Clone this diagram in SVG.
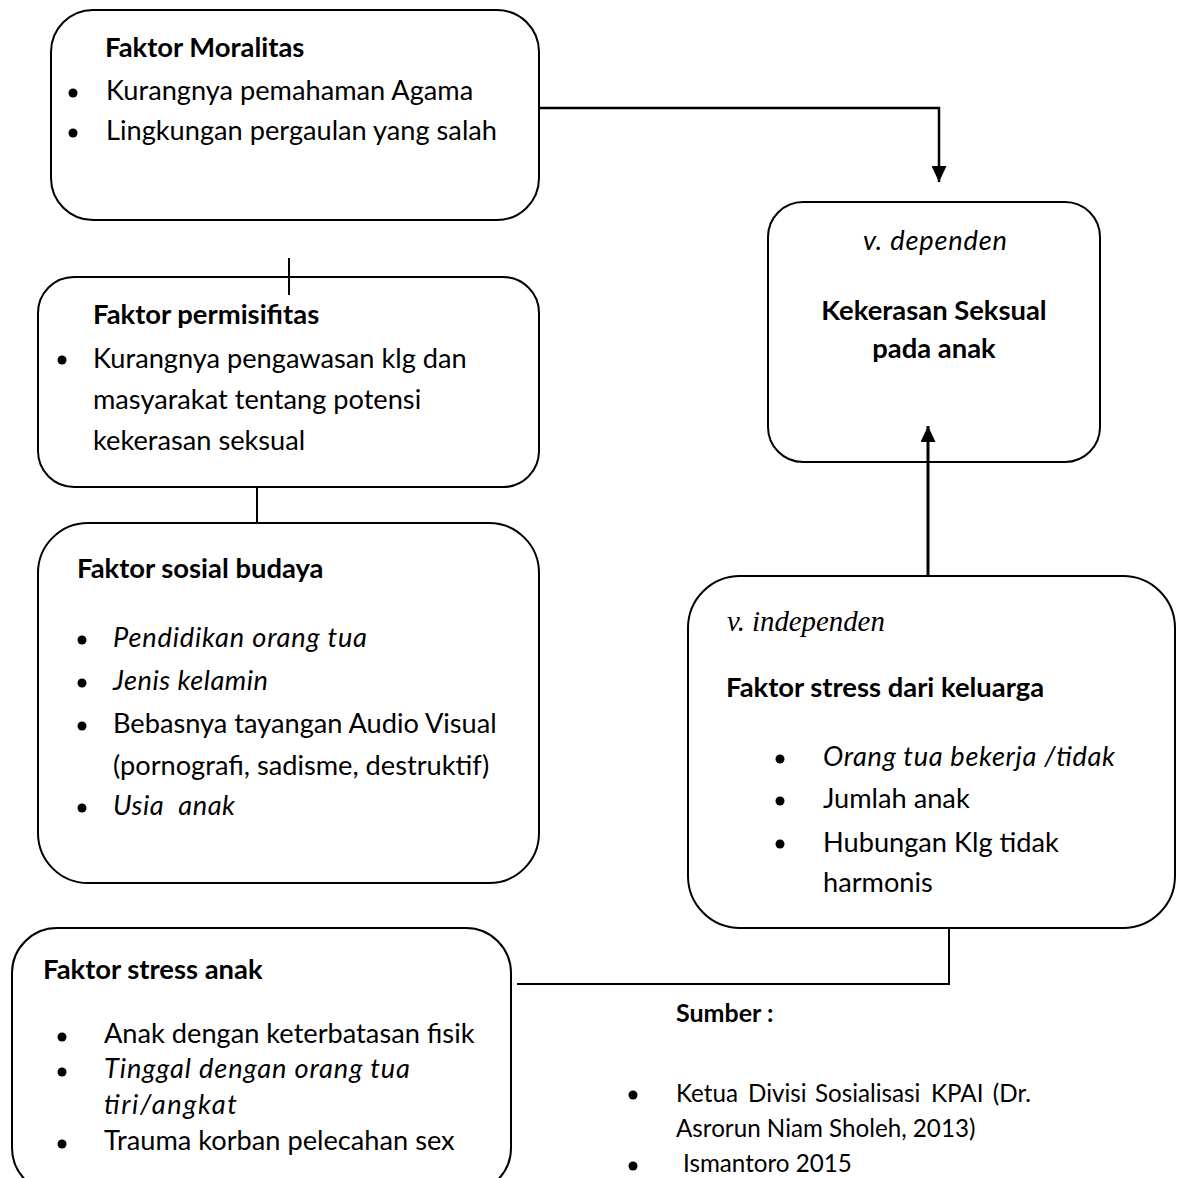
<svg xmlns="http://www.w3.org/2000/svg" width="1181" height="1178" viewBox="0 0 1181 1178">
<style>
.box{fill:#fff;stroke:#000;stroke-width:2}
.ln{fill:none;stroke:#000;stroke-width:2}
.arr{fill:none;stroke:#000;stroke-width:2.5}
.arr2{fill:none;stroke:#000;stroke-width:3}
text{font-family:Lato,"Open Sans","Liberation Sans",sans-serif;font-size:27.2px;fill:#000}
.b{font-weight:bold;font-size:27.4px}
.i{font-style:italic}
.tnr{font-family:"Liberation Serif","Times New Roman",serif;font-style:italic;font-size:28.8px}
.src{font-size:24.2px}
.sb{font-weight:bold;font-size:25px}
.dot{fill:#000}
</style>
<defs>
<marker id="ah" viewBox="0 0 16 15" refX="16" refY="7.5" markerWidth="16" markerHeight="15" markerUnits="userSpaceOnUse" orient="auto">
<path d="M0,0 L16,7.5 L0,15 Z" fill="#000"/>
</marker>
</defs>
<rect width="1181" height="1178" fill="#fff"/>
<g id="moralitas">
<rect class="box" x="51" y="10" width="488" height="210" rx="42"/>
<text class="b" x="105" y="57">Faktor Moralitas</text>
<circle class="dot" cx="73" cy="93" r="4.5"/>
<text x="106" y="100">Kurangnya pemahaman Agama</text>
<circle class="dot" cx="73" cy="133" r="4.5"/>
<text x="106" y="140">Lingkungan pergaulan yang salah</text>
</g>
<g id="permisifitas">
<rect class="box" x="38" y="277" width="501" height="210" rx="36"/>
<text class="b" x="93" y="324">Faktor permisifitas</text>
<circle class="dot" cx="62" cy="360" r="4.5"/>
<text x="93" y="368">Kurangnya pengawasan klg dan</text>
<text x="93" y="409">masyarakat tentang potensi</text>
<text x="93" y="450">kekerasan seksual</text>
</g>
<g id="sosial-budaya">
<rect class="box" x="38" y="523" width="501" height="360" rx="50"/>
<text class="b" x="77" y="578">Faktor sosial budaya</text>
<circle class="dot" cx="82" cy="640" r="4.5"/>
<text class="i" x="113" y="647" textLength="254">Pendidikan orang tua</text>
<circle class="dot" cx="82" cy="683" r="4.5"/>
<text class="i" x="113" y="690" textLength="155">Jenis kelamin</text>
<circle class="dot" cx="82" cy="726" r="4.5"/>
<text x="113" y="733">Bebasnya tayangan Audio Visual</text>
<text x="113" y="775">(pornografi, sadisme, destruktif)</text>
<circle class="dot" cx="82" cy="808" r="4.5"/>
<text class="i" x="113" y="815" textLength="122" xml:space="preserve">Usia  anak</text>
</g>
<g id="dependen">
<rect class="box" x="768" y="202" width="332" height="260" rx="35"/>
<text class="i" x="863" y="250" textLength="144">v. dependen</text>
<text class="b" x="934" y="320" text-anchor="middle">Kekerasan Seksual</text>
<text class="b" x="934" y="358" text-anchor="middle">pada anak</text>
</g>
<g id="independen">
<rect class="box" x="688" y="576" width="487" height="352" rx="52"/>
<text class="tnr" x="727" y="631">v. independen</text>
<text class="b" x="726" y="697">Faktor stress dari keluarga</text>
<circle class="dot" cx="780" cy="759" r="4.5"/>
<text class="i" x="823" y="766" textLength="292">Orang tua bekerja /tidak</text>
<circle class="dot" cx="780" cy="801" r="4.5"/>
<text x="823" y="808">Jumlah anak</text>
<circle class="dot" cx="780" cy="844" r="4.5"/>
<text x="823" y="852">Hubungan Klg tidak</text>
<text x="823" y="892">harmonis</text>
</g>
<g id="stress-anak">
<rect class="box" x="12" y="928" width="499" height="265" rx="45"/>
<text class="b" x="43" y="979">Faktor stress anak</text>
<circle class="dot" cx="62" cy="1037" r="4.5"/>
<text x="104" y="1043">Anak dengan keterbatasan fisik</text>
<circle class="dot" cx="62" cy="1072" r="4.5"/>
<text class="i" x="104" y="1078" textLength="306">Tinggal dengan orang tua</text>
<text class="i" x="104" y="1114" textLength="133">tiri/angkat</text>
<circle class="dot" cx="62" cy="1144" r="4.5"/>
<text x="104" y="1150">Trauma korban pelecahan sex</text>
</g>
<g id="sumber">
<text class="sb" x="676" y="1022">Sumber :</text>
<circle class="dot" cx="633" cy="1095" r="4.5"/>
<text class="src" y="1102"><tspan x="676">Ketua</tspan><tspan x="748">Divisi</tspan><tspan x="815">Sosialisasi</tspan><tspan x="931">KPAI</tspan><tspan x="1031" text-anchor="end">(Dr.</tspan></text>
<text class="src" x="676" y="1137">Asrorun Niam Sholeh, 2013)</text>
<circle class="dot" cx="633" cy="1166" r="4.5"/>
<text class="src" x="683" y="1172">Ismantoro 2015</text>
</g>
<g id="connectors">
<polyline class="arr" points="539,108 939,108 939,182" marker-end="url(#ah)"/>
<line class="ln" x1="289" y1="258" x2="289" y2="295"/>
<line class="ln" x1="257" y1="487" x2="257" y2="523"/>
<line class="arr2" x1="928" y1="576" x2="928" y2="426" marker-end="url(#ah)"/>
<polyline class="ln" points="949,928 949,984 517,984"/>
</g>
</svg>
